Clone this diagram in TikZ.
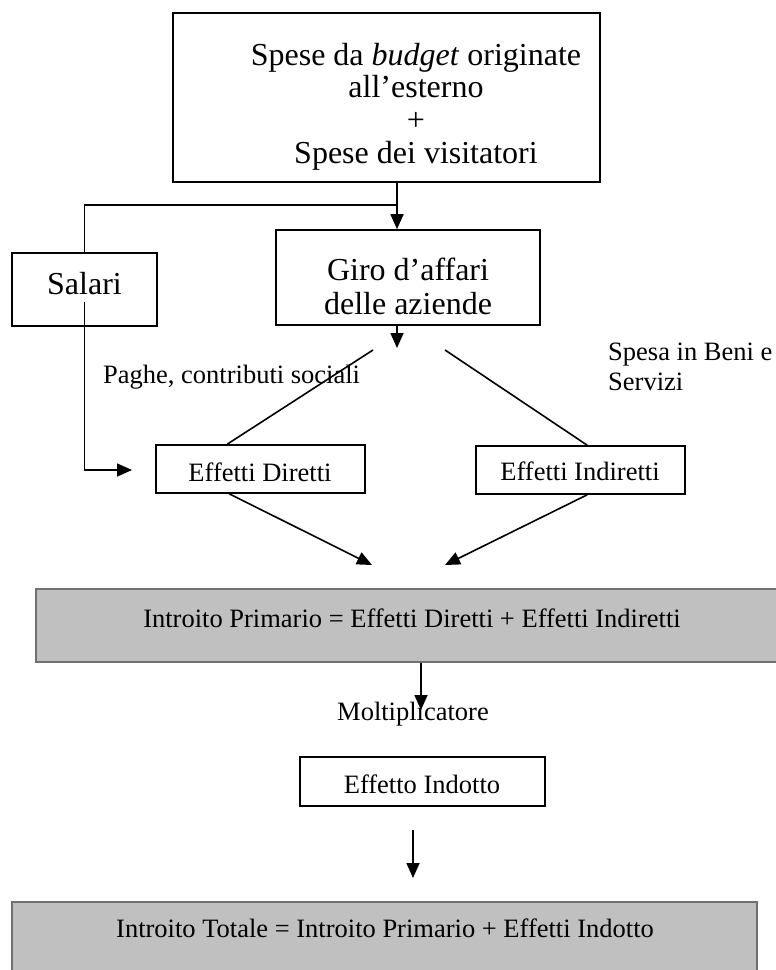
\documentclass[tikz,border=0pt]{standalone}
\usepackage{fontspec}
\setmainfont{Liberation Serif}
\usetikzlibrary{arrows.meta}
\definecolor{boxgray}{HTML}{C0C0C0}
\definecolor{edgegray}{HTML}{707070}
\begin{document}
\begin{tikzpicture}[x=1pt,y=-1pt,
  box/.style={draw, line width=1.6pt, inner sep=0pt},
  graybox/.style={draw=edgegray, fill=boxgray, line width=1.6pt, inner sep=0pt},
  big/.style={font=\fontsize{32}{34}\selectfont, inner sep=0pt, anchor=base},
  small/.style={font=\fontsize{26.5}{30}\selectfont, inner sep=0pt, anchor=base},
  ln/.style={line width=1.6pt},
  arr/.style={line width=1.6pt, -{Triangle[length=15pt,width=13pt]}}]
\useasboundingbox (0,0) rectangle (776,970);
\clip (0,0) rectangle (776,970);

% boxes
\node[box, minimum width=427pt, minimum height=169pt] (top) at (386.5,97.5) {};
\node[box, minimum width=145pt, minimum height=73pt] (salari) at (84.5,289.5) {};
\node[box, minimum width=264pt, minimum height=95pt] (giro) at (408,277.5) {};
\node[box, minimum width=209pt, minimum height=48pt] (diretti) at (260.5,469) {};
\node[box, minimum width=209pt, minimum height=48pt] (indiretti) at (580.5,470) {};
\node[graybox, minimum width=764pt, minimum height=73pt] (primary) at (418,625.5) {};
\node[box, minimum width=245pt, minimum height=49pt] (indotto) at (422.5,781.5) {};
\node[graybox, minimum width=745pt, minimum height=100pt] (totale) at (384.5,952) {};

% texts
\node[big] (t1) at (416,65) {Spese da \textit{budget} originate};
\node[big] (t2) at (416,97.5) {all'esterno};
\node[big] (t3) at (416,130) {+};
\node[big] (t4) at (416,163) {Spese dei visitatori};
\node[big] (tsal) at (84.5,294) {Salari};
\node[big] (tg1) at (408,280) {Giro d'affari};
\node[big] (tg2) at (408,314) {delle aziende};
\node[small, anchor=base west] (tpag) at (103,383) {Paghe, contributi sociali};
\node[small, anchor=base west] (tsp1) at (608,360) {Spesa in Beni e};
\node[small, anchor=base west] (tsp2) at (608,390) {Servizi};
\node[small] (tdir) at (260,481) {Effetti Diretti};
\node[small] (tind) at (580,480) {Effetti Indiretti};
\node[small] (tpri) at (412,627) {Introito Primario = Effetti Diretti + Effetti Indiretti};
\node[small] (tmol) at (413,720) {Moltiplicatore};
\node[small] (tidt) at (422,793) {Effetto Indotto};
\node[small] (ttot) at (385,937) {Introito Totale = Introito Primario + Effetti Indotto};

% coordinates
\coordinate (j) at (397,205);
\coordinate (g) at (397,348);
\coordinate (dl) at (373,350);
\coordinate (dr) at (445,350);
\coordinate (s0) at (84.5,302);
\coordinate (sa) at (132,470);
\coordinate (p1) at (372,565);
\coordinate (p2) at (445,565);
\coordinate (m) at (421,710);
\coordinate (i0) at (413,830);
\coordinate (i1) at (413,878);

% connectors
\draw[arr] (top.south -| j) -- (giro.north -| j);
\draw[ln] (j) -| (salari.north);
\draw[arr] (giro.south -| g) -- (g);
\draw[ln] (dl) -- ([xshift=72pt]diretti.north west);
\draw[ln] (dr) -- ([xshift=112pt]indiretti.north west);
\draw[arr] (s0) |- (sa);
\draw[arr] ([xshift=74pt]diretti.south west) -- (p1);
\draw[arr] ([xshift=112pt]indiretti.south west) -- (p2);
\draw[arr] (primary.south -| m) -- (m);
\draw[arr] (i0) -- (i1);
\end{tikzpicture}
\end{document}
